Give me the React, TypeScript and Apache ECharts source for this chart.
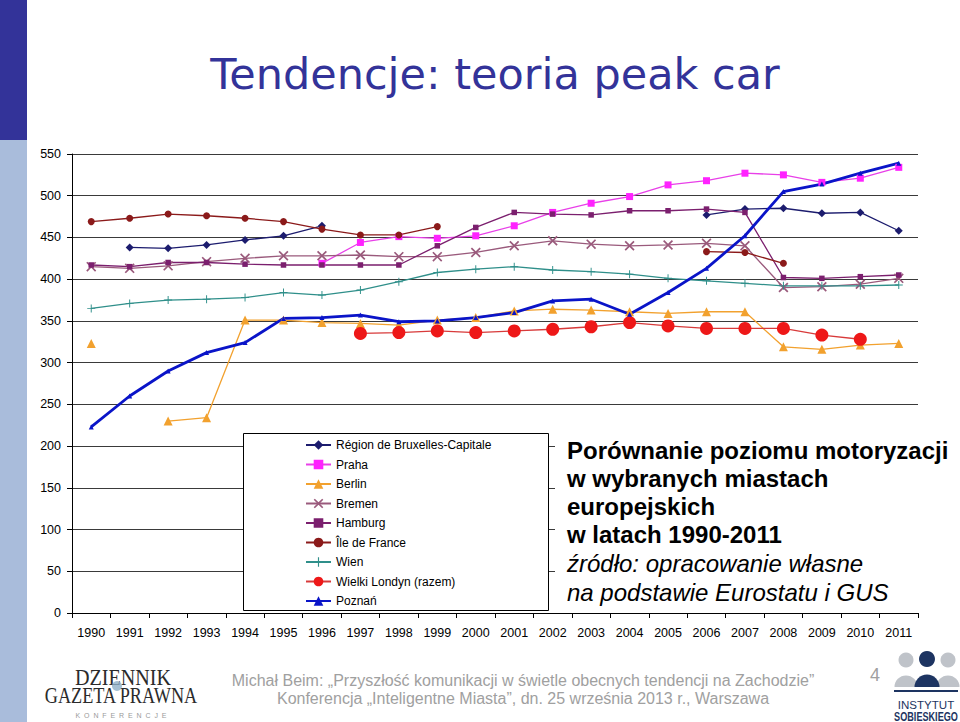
import React, { useEffect, useRef } from 'react';
import * as echarts from 'echarts';

const years = ['1990','1991','1992','1993','1994','1995','1996','1997','1998','1999','2000','2001','2002','2003','2004','2005','2006','2007','2008','2009','2010','2011'];

const bruxelles = [null, 438, 437, 441, 447, 452, 464, null, null, null, null, null, null, null, null, null, 477, 484, 485, 479, 480, 458];
const praha = [null, null, null, null, null, null, 419, 444, 451, 449, 452, 464, 480, 491, 499, 513, 518, 527, 525, 516, 521, 534];
const berlin = [323, null, 230, 234, 351, 351, 348, 347, 345, 351, 354, 362, 364, 363, 361, 359, 361, 361, 319, 316, 321, 323];
const bremen = [415, 413, 416, 421, 425, 428, 428, 429, 427, 427, 432, 440, 446, 442, 440, 441, 443, 440, 390, 391, 394, 401];
const hamburg = [417, 415, 420, 420, 418, 417, 417, 417, 417, 440, 462, 480, 478, 477, 482, 482, 484, 480, 402, 401, 403, 405];
const ileDeFrance = [469, 473, 478, 476, 473, 469, 460, 453, 453, 463, null, null, null, null, null, null, 433, 432, 419, null, null, null];
const wien = [365, 371, 375, 376, 378, 384, 381, 387, 397, 408, 412, 415, 411, 409, 406, 401, 398, 395, 392, 392, 392, 393];
const londyn = [null, null, null, null, null, null, null, 335, 336, 338, 336, 338, 340, 343, 348, 344, 341, 341, 341, 333, 328, null];
const poznan = [223, 260, 290, 312, 324, 353, 354, 357, 349, 350, 354, 360, 374, 376, 358, 384, 413, 452, 505, 514, 527, 539];

const seriesNames = ['Région de Bruxelles-Capitale', 'Praha', 'Berlin', 'Bremen', 'Hamburg', 'Île de France', 'Wien', 'Wielki Londyn (razem)', 'Poznań'];

const infoLinesBold = ['Porównanie poziomu motoryzacji', 'w wybranych miastach', 'europejskich', 'w latach 1990-2011'];
const infoLinesItalic = ['źródło: opracowanie własne', 'na podstawie Eurostatu i GUS'];

const X_SYMBOL = 'path://M0,1.2 L1.2,0 L5,3.8 L8.8,0 L10,1.2 L6.2,5 L10,8.8 L8.8,10 L5,6.2 L1.2,10 L0,8.8 L3.8,5 Z';
const PLUS_SYMBOL = 'path://M4.4,0 H5.6 V4.4 H10 V5.6 H5.6 V10 H4.4 V5.6 H0 V4.4 H4.4 Z';

const FONT = '"Liberation Sans", Arial, sans-serif';

function mk(name: string, data: (number | null)[], color: string, symbol: string, symbolSize: number, lineColor?: string, width = 1.3) {
  return {
    name,
    type: 'line',
    data,
    symbol,
    symbolSize,
    showSymbol: true,
    showAllSymbol: true,
    connectNulls: false,
    itemStyle: { color, borderWidth: 0 },
    lineStyle: { color: lineColor || color, width },
    emphasis: { disabled: true },
  };
}

export default function App() {
  const ref = useRef<HTMLDivElement>(null);
  useEffect(() => {
    if (!ref.current) return;
    const chart = echarts.init(ref.current, null, { renderer: 'svg' });
    const graphic: any[] = [
      { type: 'rect', shape: { x: 0, y: 0, width: 27, height: 140 }, style: { fill: '#333399' }, z: 1 },
      { type: 'rect', shape: { x: 0, y: 140, width: 27, height: 582 }, style: { fill: '#A9BCDB' }, z: 1 },
      {
        type: 'text', x: 495, y: 74, z: 5,
        style: { text: 'Tendencje: teoria peak car', fill: '#333399', fontSize: 43, fontFamily: '"DejaVu Sans", Tahoma, sans-serif', textAlign: 'center', textVerticalAlign: 'middle' },
      },
      // legend box
      { type: 'rect', shape: { x: 243.5, y: 433.5, width: 305, height: 177 }, style: { fill: '#ffffff', stroke: '#000000', lineWidth: 1 }, z: 3 },
      // info box
      { type: 'rect', shape: { x: 555, y: 432, width: 400, height: 179 }, style: { fill: '#ffffff' }, z: 3 },
      // footer
      {
        type: 'text', x: 523, y: 680, z: 5,
        style: { text: 'Michał Beim: „Przyszłość komunikacji w świetle obecnych tendencji na Zachodzie”', fill: '#A0A0A0', fontSize: 16, fontFamily: FONT, textAlign: 'center', textVerticalAlign: 'middle' },
      },
      {
        type: 'text', x: 523, y: 698, z: 5,
        style: { text: 'Konferencja „Inteligentne Miasta”, dn. 25 września 2013 r., Warszawa', fill: '#A0A0A0', fontSize: 16, fontFamily: FONT, textAlign: 'center', textVerticalAlign: 'middle' },
      },
      {
        type: 'text', x: 875, y: 675, z: 5,
        style: { text: '4', fill: '#A0A0A0', fontSize: 18, fontFamily: FONT, textAlign: 'center', textVerticalAlign: 'middle' },
      },
      // Dziennik Gazeta Prawna logo
      {
        type: 'group', x: 123, y: 677, scaleX: 0.84, z: 5,
        children: [{ type: 'text', style: { text: 'DZIENNIK', fill: '#2B2B2B', fontSize: 24, fontFamily: '"Liberation Serif", serif', textAlign: 'center', textVerticalAlign: 'middle' } }],
      },
      {
        type: 'group', x: 121, y: 695, scaleX: 0.76, z: 5,
        children: [{ type: 'text', style: { text: 'GAZETA PRAWNA', fill: '#2B2B2B', fontSize: 24, fontFamily: '"Liberation Serif", serif', textAlign: 'center', textVerticalAlign: 'middle' } }],
      },
      { type: 'circle', shape: { cx: 117, cy: 686, r: 5 }, style: { fill: '#8FB0C8', opacity: 0.8 }, z: 6 },
      {
        type: 'text', x: 121, y: 715, z: 5,
        style: { text: 'K  O  N  F  E  R  E  N  C  J  E', fill: '#9A9A9A', fontSize: 7, fontFamily: FONT, textAlign: 'center', textVerticalAlign: 'middle' },
      },
      // Instytut Sobieskiego logo
      { type: 'circle', shape: { cx: 906, cy: 660, r: 7.5 }, style: { fill: '#BFC3C9' }, z: 5 },
      { type: 'circle', shape: { cx: 927, cy: 659, r: 8 }, style: { fill: '#1D3461' }, z: 5 },
      { type: 'circle', shape: { cx: 948, cy: 660, r: 7.5 }, style: { fill: '#BFC3C9' }, z: 5 },
      { type: 'sector', shape: { cx: 906, cy: 687, r0: 0, r: 11.5, startAngle: Math.PI, endAngle: Math.PI * 2 }, style: { fill: '#BFC3C9' }, z: 5 },
      { type: 'sector', shape: { cx: 948, cy: 687, r0: 0, r: 11.5, startAngle: Math.PI, endAngle: Math.PI * 2 }, style: { fill: '#BFC3C9' }, z: 5 },
      { type: 'sector', shape: { cx: 927, cy: 687, r0: 0, r: 12.5, startAngle: Math.PI, endAngle: Math.PI * 2 }, style: { fill: '#1D3461' }, z: 6 },
      { type: 'rect', shape: { x: 894, y: 690, width: 64, height: 2 }, style: { fill: '#1D3461' }, z: 5 },
      {
        type: 'group', x: 926, y: 705, scaleX: 1.1, z: 5,
        children: [{ type: 'text', style: { text: 'INSTYTUT', fill: '#1D3461', fontSize: 10.5, fontFamily: FONT, textAlign: 'center', textVerticalAlign: 'middle' } }],
      },
      {
        type: 'group', x: 926, y: 716, scaleX: 0.76, z: 5,
        children: [{ type: 'text', style: { text: 'SOBIESKIEGO', fill: '#1D3461', fontSize: 12, fontWeight: 'bold', fontFamily: FONT, textAlign: 'center', textVerticalAlign: 'middle' } }],
      },
    ];
    infoLinesBold.forEach((t, i) => {
      graphic.push({
        type: 'text', x: 567, y: 450 + i * 28.3, z: 5,
        style: { text: t, fill: '#000', fontSize: 24, fontWeight: 'bold', fontFamily: FONT, textVerticalAlign: 'middle' },
      });
    });
    infoLinesItalic.forEach((t, i) => {
      graphic.push({
        type: 'text', x: 567, y: 563.5 + i * 28.5, z: 5,
        style: { text: t, fill: '#000', fontSize: 24, fontStyle: 'italic', fontFamily: FONT, textVerticalAlign: 'middle' },
      });
    });

    chart.setOption({
      animation: false,
      textStyle: { fontFamily: FONT },
      grid: { left: 72, right: 42, top: 154, bottom: 109, containLabel: false },
      legend: {
        orient: 'vertical',
        left: 305,
        top: 439,
        padding: 0,
        itemWidth: 25,
        itemHeight: 12,
        itemGap: 7.5,
        z: 6,
        textStyle: { fontSize: 12, color: '#000', fontFamily: FONT, padding: [0, 0, 0, 0] },
        data: seriesNames,
        selectedMode: false,
      },
      xAxis: {
        type: 'category',
        data: years,
        boundaryGap: true,
        axisLine: { show: true, lineStyle: { color: '#000', width: 1 } },
        axisTick: { show: true, length: 5, inside: false, lineStyle: { color: '#000' } },
        axisLabel: { interval: 0, fontSize: 12.5, color: '#000', margin: 13 },
        splitLine: { show: false },
      },
      yAxis: {
        type: 'value',
        min: 0,
        max: 550,
        interval: 50,
        axisLine: { show: true, lineStyle: { color: '#000', width: 1 } },
        axisTick: { show: true, length: 5, lineStyle: { color: '#000' } },
        axisLabel: { fontSize: 12.5, color: '#000', margin: 11 },
        splitLine: { show: true, lineStyle: { color: '#3a3a3a', width: 1 } },
      },
      series: [
        mk(seriesNames[0], bruxelles, '#1C1C6E', 'diamond', 8),
        mk(seriesNames[1], praha, '#FF22FF', 'rect', 7, '#E840E8'),
        mk(seriesNames[2], berlin, '#F2A12E', 'triangle', 9),
        mk(seriesNames[3], bremen, '#9A5A7C', X_SYMBOL, 10),
        mk(seriesNames[4], hamburg, '#7B1F6E', 'rect', 5.5),
        mk(seriesNames[5], ileDeFrance, '#8B1A1A', 'circle', 7),
        mk(seriesNames[6], wien, '#2F8F8A', PLUS_SYMBOL, 8),
        mk(seriesNames[7], londyn, '#EE1818', 'circle', 13, '#D83A3A'),
        mk(seriesNames[8], poznan, '#0A14C8', 'triangle', 5, '#0A14C8', 2.8),
      ],
      graphic,
    });
    return () => chart.dispose();
  }, []);
  return <div ref={ref} style={{ position: 'fixed', left: 0, top: 0, width: 960, height: 722, background: '#fff' }} />;
}
